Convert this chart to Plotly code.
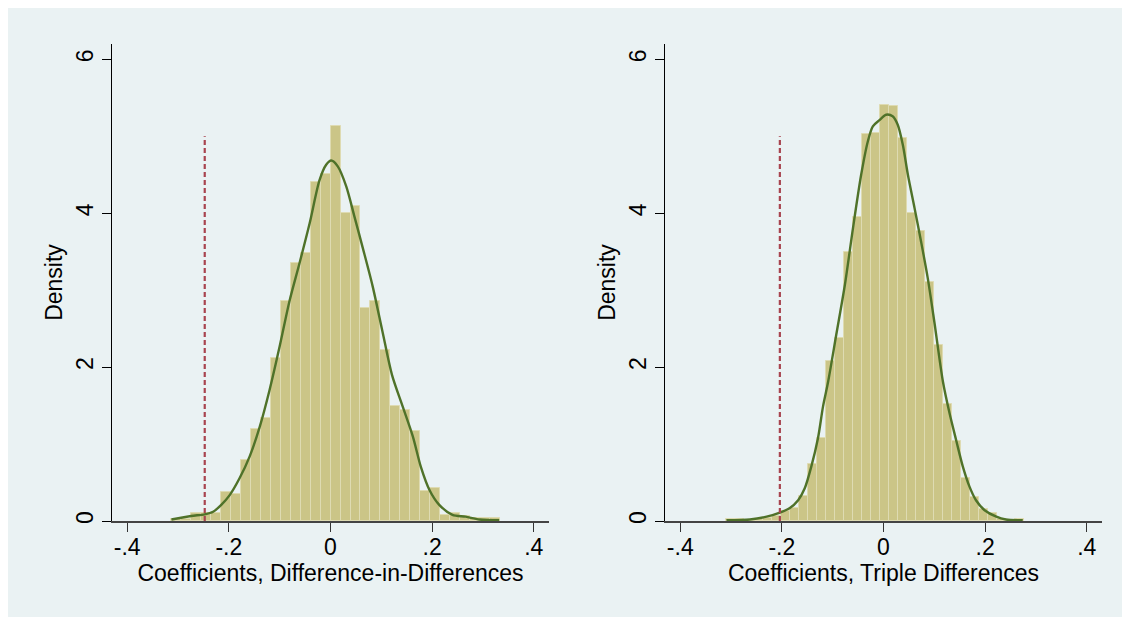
import numpy as np
import plotly.graph_objects as go
from plotly.subplots import make_subplots

# ---------------- data ----------------
# Left panel: Difference-in-Differences (33 bins)
did_bin_start = -0.313
did_bin_width = 0.01958
did_heights = [0.03, 0.03, 0.10, 0.10, 0.11, 0.38, 0.355, 0.79, 1.20, 1.34,
               2.12, 2.86, 3.35, 3.49, 4.41, 4.51, 5.13, 4.00, 4.10, 2.77,
               2.86, 2.22, 1.50, 1.44, 1.17, 0.39, 0.425, 0.08, 0.11, 0.07,
               0.035, 0.035, 0.035]
did_kde_x = [-0.313, -0.274, -0.2475, -0.231, -0.215, -0.198, -0.179, -0.159,
             -0.139, -0.12, -0.10, -0.081, -0.061, -0.041, -0.0216, -0.0085,
             0.0014, 0.0143, 0.031, 0.047, 0.0635, 0.083, 0.103, 0.121, 0.142,
             0.162, 0.178, 0.195, 0.214, 0.240, 0.266, 0.293, 0.332]
did_kde_y = [0.02, 0.065, 0.087, 0.12, 0.21, 0.34, 0.555, 0.84, 1.23, 1.70,
             2.27, 2.85, 3.35, 3.87, 4.43, 4.63, 4.685, 4.61, 4.35, 3.96, 3.55,
             3.05, 2.44, 1.90, 1.49, 1.10, 0.70, 0.40, 0.21, 0.08, 0.056, 0.02,
             0.01]
did_actual = -0.2475

# Right panel: Triple Differences (33 bins)
ddd_bin_start = -0.309
ddd_bin_width = 0.01772
ddd_heights = [0.03, 0.02, 0.01, 0.02, 0.04, 0.07, 0.13, 0.165, 0.33, 0.74,
               1.08, 2.085, 2.38, 3.50, 3.95, 5.03, 5.04, 5.41, 5.39, 4.98,
               4.00, 3.77, 3.11, 2.29, 1.52, 1.04, 0.56, 0.31, 0.16, 0.10,
               0.02, 0.01, 0.03]
ddd_kde_x = [-0.309, -0.263, -0.23, -0.204, -0.185, -0.168, -0.155, -0.142,
             -0.129, -0.119, -0.109, -0.093, -0.076, -0.060, -0.044, -0.031,
             -0.021, -0.008, 0.005, 0.018, 0.028, 0.038, 0.048, 0.061, 0.074,
             0.087, 0.100, 0.117, 0.130, 0.143, 0.156, 0.169, 0.182, 0.199,
             0.222, 0.241, 0.274]
ddd_kde_y = [0.01, 0.02, 0.056, 0.11, 0.165, 0.27, 0.425, 0.71, 1.075, 1.49,
             1.81, 2.42, 3.07, 3.81, 4.50, 4.93, 5.13, 5.21, 5.28, 5.26, 5.15,
             4.89, 4.50, 4.07, 3.63, 3.16, 2.59, 1.81, 1.40, 1.05, 0.71, 0.45,
             0.27, 0.14, 0.056, 0.02, 0.01]
ddd_actual = -0.204

line_top = 5.0
x_ticks = [-0.4, -0.2, 0, 0.2, 0.4]
x_ticklabels = ["-.4", "-.2", "0", ".2", ".4"]
y_ticks = [0, 2, 4, 6]
y_ticklabels = ["0", "2", "4", "6"]
x_titles = ["Coefficients, Difference-in-Differences", "Coefficients, Triple Differences"]

# ---------------- style ----------------
BAR_FILL = "#CBC587"
BAR_EDGE = "#DEDBB2"
KDE_COLOR = "#4F7229"
LINE_COLOR = "#A8444F"
OUTER_BG = "#EAF2F3"
FONT = "Liberation Sans, Arial, sans-serif"
FS = 23

fig = make_subplots(rows=1, cols=2, horizontal_spacing=0.1172)

panels = [
    (did_bin_start, did_bin_width, did_heights, did_kde_x, did_kde_y, did_actual),
    (ddd_bin_start, ddd_bin_width, ddd_heights, ddd_kde_x, ddd_kde_y, ddd_actual),
]

for col, (b0, bw, h, kx, ky, act) in enumerate(panels, start=1):
    centers = b0 + bw * (np.arange(len(h)) + 0.5)
    fig.add_trace(go.Bar(x=centers, y=h, width=bw,
                         marker=dict(color=BAR_FILL, line=dict(color=BAR_EDGE, width=1)),
                         showlegend=False, hoverinfo="skip"), row=1, col=col)
    fig.add_trace(go.Scatter(x=kx, y=ky, mode="lines",
                             line=dict(color=KDE_COLOR, width=2.4, shape="spline", smoothing=0.8),
                             showlegend=False, hoverinfo="skip"), row=1, col=col)
    fig.add_trace(go.Scatter(x=[act, act], y=[0, line_top], mode="lines",
                             line=dict(color=LINE_COLOR, width=2.2, dash="5px,3px"),
                             showlegend=False, hoverinfo="skip"), row=1, col=col)

for col in (1, 2):
    fig.update_xaxes(range=[-0.43, 0.43], tickvals=x_ticks, ticktext=x_ticklabels,
                     ticks="outside", ticklen=9, tickwidth=1, tickcolor="#333333",
                     ticklabelstandoff=-4,
                     showline=True, linecolor="#444444", linewidth=1.5,
                     showgrid=False, zeroline=False,
                     tickfont=dict(family=FONT, size=FS, color="black"),
                     title=dict(text=x_titles[col - 1], standoff=0,
                                font=dict(family=FONT, size=FS, color="black")),
                     row=1, col=col)
    fig.update_yaxes(range=[0, 6.2], tickvals=y_ticks, ticktext=y_ticklabels,
                     ticks="outside", ticklen=9, tickwidth=1, tickcolor="black",
                     tickangle=-90,
                     showline=True, linecolor="black", linewidth=1,
                     showgrid=True, gridcolor=OUTER_BG, gridwidth=1.2, zeroline=False,
                     tickfont=dict(family=FONT, size=FS, color="black"),
                     title=dict(text="Density", standoff=2,
                                font=dict(family=FONT, size=FS, color="black")),
                     row=1, col=col)

fig.update_layout(
    width=1130, height=622,
    margin=dict(l=104, r=36, t=36, b=109, autoexpand=False),
    paper_bgcolor="white", plot_bgcolor="white",
    bargap=0,
    shapes=[dict(type="rect", xref="paper", yref="paper", layer="below",
                 x0=-106 / 990, x1=1012 / 990, y0=-96 / 477, y1=514 / 477,
                 fillcolor=OUTER_BG, line=dict(width=0))],
)

fig.write_html("out.html")
